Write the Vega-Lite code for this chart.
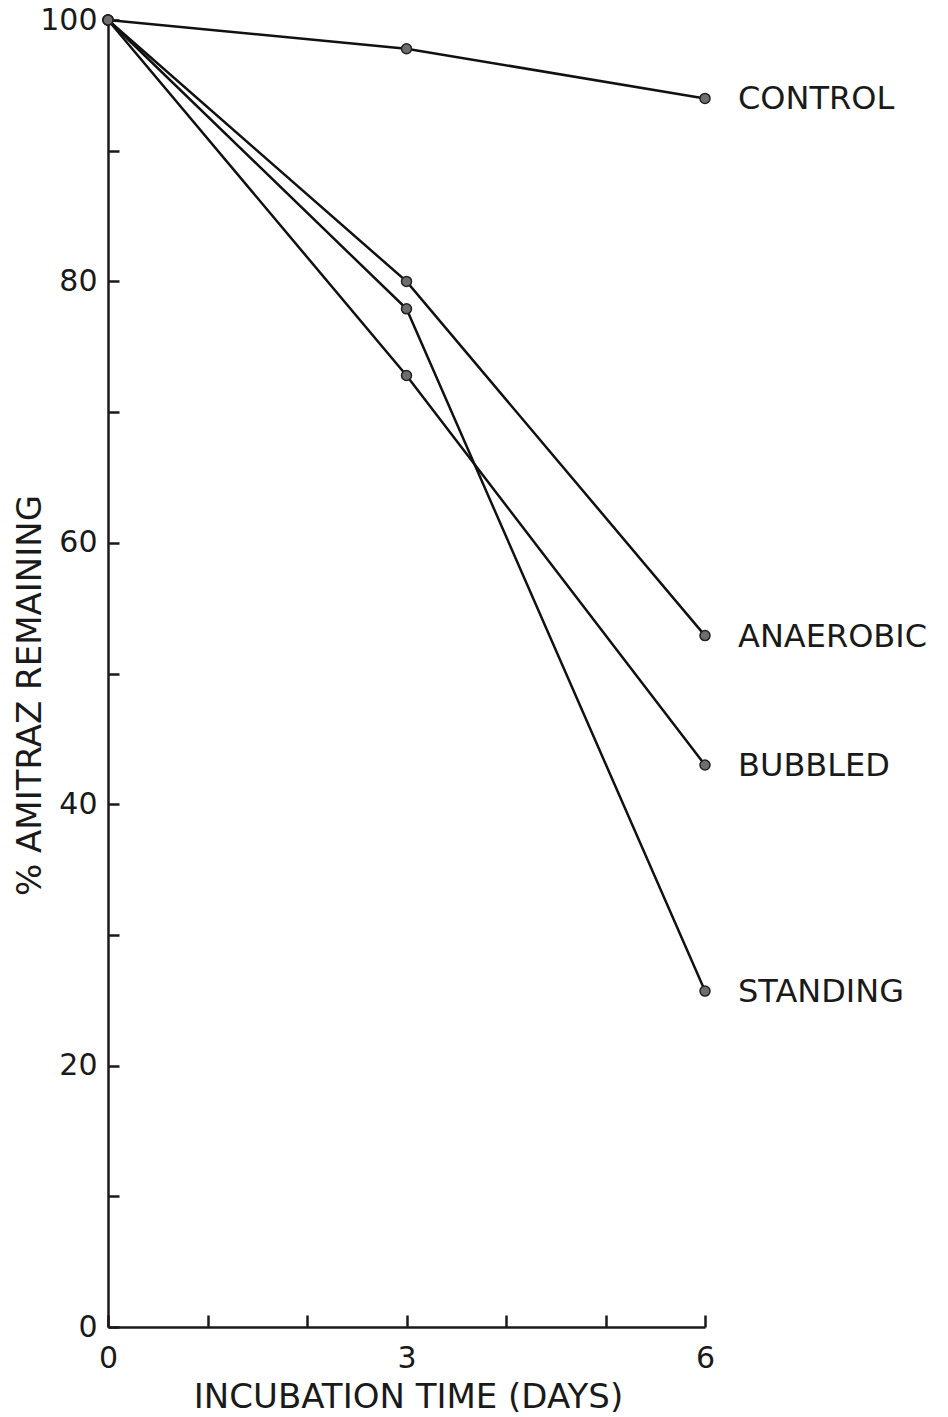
{
  "$schema": "https://vega.github.io/schema/vega-lite/v6.json",
  "width": 597,
  "height": 1307,
  "autosize": {"type": "none"},
  "padding": {"left": 108, "top": 20, "right": 243, "bottom": 90},
  "background": "white",
  "config": {"view": {"stroke": null}},
  "data": {
    "values": [
      {"series": "CONTROL", "day": 0, "pct": 100},
      {"series": "CONTROL", "day": 3, "pct": 97.8},
      {"series": "CONTROL", "day": 6, "pct": 94.0},
      {"series": "ANAEROBIC", "day": 0, "pct": 100},
      {"series": "ANAEROBIC", "day": 3, "pct": 80.0},
      {"series": "ANAEROBIC", "day": 6, "pct": 52.9},
      {"series": "STANDING", "day": 0, "pct": 100},
      {"series": "STANDING", "day": 3, "pct": 77.9},
      {"series": "STANDING", "day": 6, "pct": 25.7},
      {"series": "BUBBLED", "day": 0, "pct": 100},
      {"series": "BUBBLED", "day": 3, "pct": 72.8},
      {"series": "BUBBLED", "day": 6, "pct": 43.0}
    ]
  },
  "encoding": {
    "x": {
      "field": "day", "type": "quantitative",
      "scale": {"domain": [0, 6], "nice": false, "zero": false},
      "axis": {
        "values": [0, 1, 2, 3, 4, 5, 6],
        "labelExpr": "datum.value % 3 == 0 ? datum.label : ''",
        "labelFlush": false, "labelOverlap": false,
        "grid": false, "domainColor": "#1a1a1a", "domainWidth": 2.5,
        "tickColor": "#1a1a1a", "tickWidth": 2.5, "tickSize": -12,
        "labelPadding": 28, "labelFont": "DejaVu Sans", "labelFontSize": 30,
        "labelColor": "#1a1a1a", "labelFontWeight": "normal",
        "title": "INCUBATION TIME (DAYS)", "titleFont": "DejaVu Sans",
        "titleFontSize": 34, "titleFontWeight": "normal", "titleColor": "#1a1a1a",
        "titleX": 300, "titleY": 70, "titleBaseline": "middle"
      }
    },
    "y": {
      "field": "pct", "type": "quantitative",
      "scale": {"domain": [0, 100], "nice": false},
      "axis": {
        "values": [0, 10, 20, 30, 40, 50, 60, 70, 80, 90, 100],
        "labelExpr": "datum.value % 20 == 0 ? datum.label : ''",
        "labelFlush": false, "labelOverlap": false,
        "grid": false, "domainColor": "#1a1a1a", "domainWidth": 2.5,
        "tickColor": "#1a1a1a", "tickWidth": 2.5, "tickSize": -11,
        "labelPadding": 22, "labelFont": "DejaVu Sans", "labelFontSize": 30,
        "labelColor": "#1a1a1a", "labelFontWeight": "normal",
        "title": "% AMITRAZ REMAINING", "titleFont": "DejaVu Sans",
        "titleFontSize": 34, "titleFontWeight": "normal", "titleColor": "#1a1a1a",
        "titleAngle": -90, "titleX": -78, "titleY": 675, "titleBaseline": "middle"
      }
    }
  },
  "layer": [
    {
      "mark": {"type": "line", "color": "#111", "strokeWidth": 2.5},
      "encoding": {"detail": {"field": "series"}}
    },
    {
      "mark": {"type": "point", "shape": "circle", "filled": true, "fill": "#6e6e6e", "stroke": "#222", "strokeWidth": 1.5, "size": 100, "opacity": 1}
    },
    {
      "transform": [{"filter": "datum.day == 6"}],
      "mark": {"type": "text", "align": "left", "baseline": "middle", "dx": 33, "dy": 1, "font": "DejaVu Sans", "fontSize": 32, "color": "#1a1a1a"},
      "encoding": {"text": {"field": "series"}}
    }
  ]
}
